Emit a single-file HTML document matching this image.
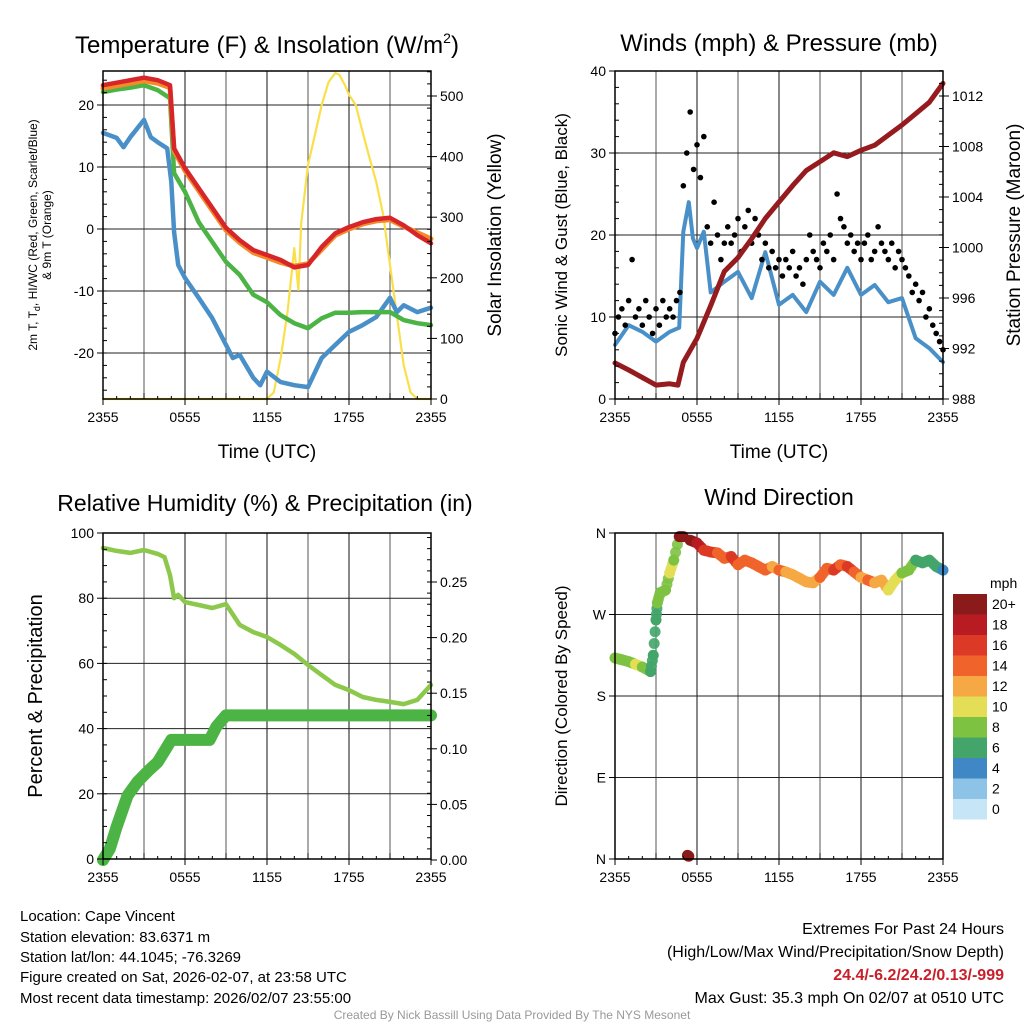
<!DOCTYPE html>
<html><head><meta charset="utf-8">
<style>
html,body{margin:0;padding:0;background:#fff;}
svg{display:block;font-family:"Liberation Sans",Arial,sans-serif;}
</style></head>
<body>
<svg id="c" width="1024" height="1024" viewBox="0 0 1024 1024">
<g fill="#000">
<text x="267" y="53" font-size="24" text-anchor="middle">Temperature (F) &amp; Insolation (W/m<tspan font-size="14" dy="-10">2</tspan><tspan dy="10">)</tspan></text>
<text x="779" y="51" font-size="24" text-anchor="middle">Winds (mph) &amp; Pressure (mb)</text>
<text x="265" y="511" font-size="23" text-anchor="middle">Relative Humidity (%) &amp; Precipitation (in)</text>
<text x="779" y="505" font-size="23" text-anchor="middle">Wind Direction</text>
<text x="267" y="458" font-size="19" text-anchor="middle">Time (UTC)</text>
<text x="779" y="458" font-size="19" text-anchor="middle">Time (UTC)</text>
<g font-size="12" text-anchor="middle">
<text transform="translate(37,235) rotate(-90)">2m T, T<tspan font-size="9" dy="3">d</tspan><tspan dy="-3">, HI/WC (Red, Green, Scarlet/Blue)</tspan></text>
<text transform="translate(51,235) rotate(-90)">&amp; 9m T (Orange)</text>
</g>
<text transform="translate(501,235) rotate(-90)" font-size="19" text-anchor="middle">Solar Insolation (Yellow)</text>
<text transform="translate(567,235) rotate(-90)" font-size="17" text-anchor="middle">Sonic Wind &amp; Gust (Blue, Black)</text>
<text transform="translate(1020,235) rotate(-90)" font-size="19" text-anchor="middle">Station Pressure (Maroon)</text>
<text transform="translate(42,696) rotate(-90)" font-size="20" text-anchor="middle">Percent &amp; Precipitation</text>
<text transform="translate(567,696) rotate(-90)" font-size="17" text-anchor="middle">Direction (Colored By Speed)</text>
<g font-size="15">
<text x="20" y="921">Location: Cape Vincent</text>
<text x="20" y="942">Station elevation: 83.6371 m</text>
<text x="20" y="962">Station lat/lon: 44.1045; -76.3269</text>
<text x="20" y="982">Figure created on Sat, 2026-02-07, at 23:58 UTC</text>
<text x="20" y="1003">Most recent data timestamp: 2026/02/07 23:55:00</text>
</g>
<g font-size="16" text-anchor="end">
<text x="1004" y="934">Extremes For Past 24 Hours</text>
<text x="1004" y="957">(High/Low/Max Wind/Precipitation/Snow Depth)</text>
<text x="1004" y="980" fill="#c8202a" font-weight="bold">24.4/-6.2/24.2/0.13/-999</text>
<text x="1004" y="1003">Max Gust: 35.3 mph On 02/07 at 0510 UTC</text>
</g>
<text x="512" y="1019" font-size="12" fill="#999" text-anchor="middle">Created By Nick Bassill Using Data Provided By The NYS Mesonet</text>
</g>
</svg>
<script>
// ---- data ----
const tempHours=[0,1,2,3,4,4.9,5.2,6,7,8,9,10,11,12,13,14,15,16,17,18,19,20,21,22,23,24];
const tempRed=[23.2,23.6,24,24.4,24,23.2,13,9.8,6.6,3.4,0.2,-1.8,-3.4,-4.2,-5,-6.2,-5.8,-2.9,-0.7,0.3,1.1,1.6,1.8,0.6,-1,-2.3];
const tempOrange=[22.7,23.1,23.5,23.9,23.5,22.8,12.6,9.4,6.2,3,-0.2,-2.2,-3.8,-4.6,-5.4,-6,-5.6,-3.3,-1,0,0.8,1.3,1.5,0.4,-0.6,-1.6];
const tempGreen=[22.1,22.5,22.8,23.2,22.4,21.1,9,6,1.1,-2.1,-5.3,-7.4,-10.6,-11.8,-13.9,-15.2,-16,-14.4,-13.5,-13.5,-13.4,-13.4,-13.4,-14.7,-15.2,-15.5];
const dewHours=[0,1,1.5,2,3,3.5,4,4.7,5,5.2,5.5,6,7,8,9,9.5,10,11,11.5,12,13,14,15,16,17,18,19,20,21,21.5,22,23,24];
const dewBlue=[15.5,14.7,13.2,14.8,17.6,14.8,14,13,7.6,-0.5,-5.8,-7.9,-11.1,-14.4,-18.7,-20.8,-20.3,-24,-25.2,-23,-24.7,-25.2,-25.5,-20.8,-18.7,-16.6,-15.5,-14.2,-11.1,-13.4,-12.3,-13.4,-12.7];
const solarHours=[0,12,12.5,13,13.5,14,14.3,14.5,15,16,16.5,17,17.3,17.7,18,18.5,19,19.5,20,20.5,21,21.5,22,22.5,23,24];
const solarValues=[0,0,11,68,143,249,180,290,386,485,523,538,535,518,502,485,440,398,358,304,221,139,56,11,0,0];
const windHours=[0,1,2,3,4,4.7,5,5.4,5.7,6,6.5,7,8,9,10,11,12,13,14,15,16,17,18,19,20,21,22,23,24];
const windSpeed=[6.6,9,8.2,7,8.2,8.7,20.4,24,19.6,18.4,20.4,13,14.3,15.5,12.3,17.9,11.5,12.7,10.6,14.3,12.7,16,12.7,13.9,11.8,12.3,7.4,6.2,4.5];
const gustValues=[8,10,11,9,12,17,10,11,9, 12,10,8,11,9,12,10,11, 10,12,13, 26,30,35,28,31,27,32, 21,19,24,20,17,19, 21,19,20,22,18,21,23,19, 22,20,17,19,16,18,16,17, 15,17,16,18,15,16,14,17, 20,18,17,16,19,18,20,17, 25,22,21,19,20,18,19,17, 19,20,17,18,21,19,18,17, 19,16,18,17,16,15,13,14, 12,13,10,11,9,8,7,6];
const gustStep=0.25;
const presHours=[0,1,2,3,4,4.6,5,6,7,8,9,10,11,12,13,14,15,16,17,18,19,20,21,22,23,24];
const presValues=[990.85,990.3,989.7,989.1,989.2,989.1,990.9,992.8,995.4,998.1,999.2,1000.7,1002.3,1003.6,1004.9,1006.1,1006.8,1007.5,1007.2,1007.7,1008.1,1008.9,1009.7,1010.6,1011.5,1013];
const rhHours=[0,1,2,3,4,4.5,4.9,5.2,5.5,6,7,8,9,10,11,12,13,14,15,16,17,18,19,20,21,22,23,24];
const rhValues=[95.4,94.5,93.9,94.8,93.6,92.6,87.1,80,81,78.8,77.9,77,78.2,71.8,69.6,68.1,65.6,62.9,59.5,56.4,53.4,51.8,49.7,48.8,48.2,47.5,48.8,53.4];
const precipHours=[0,0.5,1,1.8,2.5,3.3,4,4.6,5,7.8,8.3,9,24];
const precipValues=[0,0.01,0.03,0.058,0.07,0.08,0.088,0.1,0.108,0.108,0.12,0.13,0.13];
const dirHours=[0,0.5,1,1.5,2,2.6,2.8,3,3.1,3.3,3.7,4,4.3,4.7,5,5.3,5.4,5.5,6,6.5,7,7.5,8,8.5,9,9.5,10,10.5,11,11.5,12,12.5,13,13.5,14,14.5,15,15.5,16,16.5,17,17.5,18,18.5,19,19.5,20,20.5,21,21.5,22,22.5,23,23.5,24];
const dirValues=[222,220,218,215,212,207,225,264,283,294,297,316,330,356,356,4,3,352,349,341,339,338,332,334,325,330,327,323,319,323,319,317,314,310,306,305,311,321,319,325,323,317,311,308,305,308,297,308,316,319,330,327,330,323,319];
const dirSpeed=[7,8,7,9,8,5,6,6,7,8,8,9,8,20,21,21,20,19,17,16,15,14,14,15,14,13,14,13,13,12,13,12,12,11,12,12,13,14,15,14,15,13,12,13,12,11,10,10,8,7,6,5,6,5,4];
const colorBins=[0,2,4,6,8,10,12,14,16,18,20];
const colorLabels=["0","2","4","6","8","10","12","14","16","18","20+"];
const colorFills=["#c6e6f8","#8ec3e8","#3f88c5","#43a56a","#7ec242","#e3de55","#f6a844","#f0642b","#dc3a26","#b81c22","#8b1a1a"];
const timeTickLabels=["2355","0555","1155","1755","2355"];
const tempTicks=[-20,-10,0,10,20];
const solarTicks=[0,100,200,300,400,500];
const windTicks=[0,10,20,30,40];
const presTicks=[988,992,996,1000,1004,1008,1012];
const rhTicks=[0,20,40,60,80,100];
const precipTicks=[0,0.05,0.1,0.15,0.2,0.25];
const dirTicks=[0,90,180,270,360];
const dirTickLabels=["N","E","S","W","N"];

// ---- helpers ----
const NS="http://www.w3.org/2000/svg";
const svg=document.getElementById('c');
function mk(tag,attrs,parent){const e=document.createElementNS(NS,tag);for(const k in attrs)e.setAttribute(k,attrs[k]);(parent||svg).appendChild(e);return e;}
function lin(d0,d1,r0,r1){return v=>r0+(v-d0)/(d1-d0)*(r1-r0);}
function panel(name,x0,y0,x1,y1){
  const g=mk('g',{});
  
  
  return {g,x0,y0,x1,y1,x:lin(0,24,x0,x1)};
}
function frame(P,gridY,yfun){
  const grid=mk('g',{stroke:'#222','stroke-width':1},P.g);
  
  
  for(let h=3;h<24;h+=3){mk('line',{x1:P.x(h),x2:P.x(h),y1:P.y0,y2:P.y1,stroke:h%6?'#555':'#111'},grid);}
  gridY.forEach(v=>{const y=yfun(v);mk('line',{x1:P.x0,x2:P.x1,y1:y,y2:y},grid);});
}
function border(P){
  const b=mk('rect',{x:P.x0,y:P.y0,width:P.x1-P.x0,height:P.y1-P.y0,fill:'none',stroke:'#000','stroke-width':1.5},P.g);
  
  
  const xt=mk('g',{'font-size':14,'text-anchor':'middle'},P.g);
  
  
  timeTickLabels.forEach((l,i)=>{const x=P.x(i*6);mk('line',{x1:x,x2:x,y1:P.y1,y2:P.y1+6,stroke:'#000'},xt);const t=mk('text',{x:x,y:P.y1+23},xt);t.textContent=l;});
  for(let h=0;h<=24;h+=1){const x=P.x(h);mk('line',{x1:x,x2:x,y1:P.y1,y2:P.y1-(h%3?3:6),stroke:'#000'},xt);}
}
function yAxis(P,ticks,scale,side,fmt,minorStep,dmin,dmax){
  const g=mk('g',{'font-size':14,'text-anchor':side==='left'?'end':'start'},P.g);
  
  
  const xa=side==='left'?P.x0:P.x1, dir=side==='left'?-1:1;
  ticks.forEach(v=>{const y=scale(v);mk('line',{x1:xa,x2:xa+dir*6,y1:y,y2:y,stroke:'#000'},g);const t=mk('text',{x:xa+dir*9,y:y+5},g);t.textContent=fmt(v);});
  if(minorStep){for(let v=dmin;v<=dmax+1e-9;v+=minorStep){const y=scale(v);if(y<P.y0-0.5||y>P.y1+0.5)continue;mk('line',{x1:xa,x2:xa-dir*4,y1:y,y2:y,stroke:'#000'},g);}}
}
function path(P,xs,ys,yfun,attrs,name){
  let d='';xs.forEach((h,i)=>{d+=(i?'L':'M')+P.x(h).toFixed(1)+','+yfun(ys[i]).toFixed(1);});
  const p=mk('path',Object.assign({d:d,fill:'none','stroke-linejoin':'round','stroke-linecap':'round'},attrs),P.g);
  
  
  return p;
}
function colorFor(s){let i=0;for(let k=0;k<colorBins.length;k++){if(s>=colorBins[k]-1)i=k;}return colorFills[i];}

// ---- Panel 1: temperature ----
const P1=panel('temperature-panel',103,71,431,399);
const tY=lin(0,20,229,105), sY=lin(0,500,399,96);
frame(P1,tempTicks,tY);
path(P1,solarHours,solarValues,sY,{stroke:'#f9e04b','stroke-width':2.2},'insolation-line');
path(P1,dewHours,dewBlue,tY,{stroke:'#4a90c8','stroke-width':4.5},'wind-chill-line');
path(P1,tempHours,tempGreen,tY,{stroke:'#4bb444','stroke-width':4.5},'dewpoint-line');
path(P1,tempHours,tempOrange,tY,{stroke:'#f58a2a','stroke-width':5},'temp-9m-line');
path(P1,tempHours,tempRed,tY,{stroke:'#d7262a','stroke-width':4.5},'temp-2m-line');
border(P1);
yAxis(P1,tempTicks,tY,'left',v=>String(v),2,-26,24);
yAxis(P1,solarTicks,sY,'right',v=>String(v),20,0,540);

// ---- Panel 2: winds ----
const P2=panel('winds-panel',615,71,943,399);
const wY=lin(0,40,399,71), pY=lin(988,1012,399,96);
frame(P2,[10,20,30],wY);
path(P2,windHours,windSpeed,wY,{stroke:'#4a90c8','stroke-width':4},'sonic-wind-line');
const gg=mk('g',{fill:'#000'},P2.g);


gustValues.forEach((v,i)=>{const c=mk('circle',{cx:P2.x(i*gustStep),cy:wY(v),r:2.8},gg);

});
path(P2,presHours,presValues,pY,{stroke:'#961b1e','stroke-width':5},'pressure-line');
border(P2);
yAxis(P2,windTicks,wY,'left',v=>String(v),2,0,40);
yAxis(P2,presTicks,pY,'right',v=>String(v),1,988,1014);

// ---- Panel 3: humidity ----
const P3=panel('humidity-panel',103,533,431,859);
const rY=lin(0,100,859,533), prY=lin(0,0.25,860,582);
frame(P3,[20,40,60,80],rY);
path(P3,precipHours,precipValues,prY,{stroke:'#4bb444','stroke-width':12},'precipitation-line');
path(P3,rhHours,rhValues,rY,{stroke:'#8cc84b','stroke-width':4.5},'humidity-line');
border(P3);
yAxis(P3,rhTicks,rY,'left',v=>String(v),5,0,100);
yAxis(P3,precipTicks,prY,'right',v=>v.toFixed(2),0.01,0,0.29);

// ---- Panel 4: direction ----
const P4=panel('direction-panel',615,533,943,859);
const dY=lin(0,360,859,533);
frame(P4,[90,180,270],dY);
const dg=mk('g',{},P4.g);


dirHours.forEach((h,i)=>{
  const c=mk('circle',{cx:P4.x(h),cy:dY(dirValues[i]),r:5.5,fill:colorFor(dirSpeed[i])},dg);
  
  
  if(i+1<dirHours.length && Math.abs(dirValues[i+1]-dirValues[i])<40){
    for(let k=1;k<3;k++){const f=k/3;const c2=mk('circle',{cx:P4.x(h+(dirHours[i+1]-h)*f),cy:dY(dirValues[i]+(dirValues[i+1]-dirValues[i])*f),r:5.5,fill:colorFor(dirSpeed[i]),opacity:0.9},dg);
    
    }
  }
});
border(P4);
yAxis(P4,dirTicks,dY,'left',(v)=>dirTickLabels[dirTicks.indexOf(v)],0,0,0);
// colorbar
const cb=mk('g',{'font-size':14},svg);


const cbTop=594,cbH=20.5;
const mph=mk('text',{x:990,y:588},cb);mph.textContent='mph';
colorLabels.forEach((l,i)=>{
  const idx=colorLabels.length-1-i;
  const r=mk('rect',{x:953,y:cbTop+i*cbH,width:34,height:cbH,fill:colorFills[idx]},cb);
  
  
  const t=mk('text',{x:992,y:cbTop+i*cbH+15},cb);t.textContent=colorLabels[idx];
});
</script>
</body></html>
